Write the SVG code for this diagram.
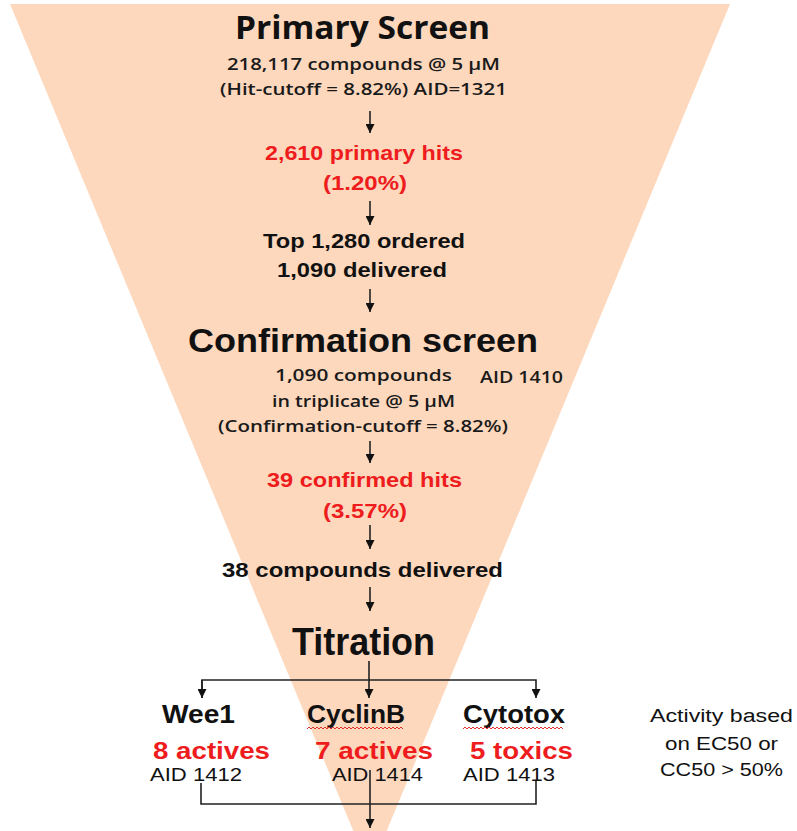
<svg xmlns="http://www.w3.org/2000/svg" width="797" height="831" viewBox="0 0 797 831">
<style>
.h{font-family:"Open Sans","Liberation Sans",sans-serif;font-weight:700;fill:#111;text-anchor:middle}
.s{font-family:"Open Sans","Liberation Sans",sans-serif;font-weight:600;fill:#1a1a1a;text-anchor:middle;font-size:17px}
.b{font-family:"Liberation Sans",Arial,sans-serif;font-weight:700;fill:#111;text-anchor:middle}
.r{font-family:"Liberation Sans",Arial,sans-serif;font-weight:700;fill:#ee1c1c;text-anchor:middle}
.n{font-family:"Liberation Sans",Arial,sans-serif;font-weight:400;fill:#111;text-anchor:middle;font-size:18px}
.c{fill:none;stroke:#222;stroke-width:1.6}
.w{fill:none;stroke:#e03030;stroke-width:1}
</style>
<defs>
<marker id="ah" viewBox="0 0 10 10" refX="10" refY="5" markerWidth="9" markerHeight="9" markerUnits="userSpaceOnUse" orient="auto">
<path d="M0,0 L10,5 L0,10 z" fill="#111"/>
</marker>
</defs>
<rect width="797" height="831" fill="#fff"/>
<polygon id="funnel" points="10,4 730,4 370,871" fill="#fdd8bd"/>

<g id="connectors">
<line class="c" x1="370" y1="111" x2="370" y2="133" marker-end="url(#ah)"/>
<line class="c" x1="370" y1="201" x2="370" y2="225" marker-end="url(#ah)"/>
<line class="c" x1="370" y1="289" x2="370" y2="312" marker-end="url(#ah)"/>
<line class="c" x1="370" y1="441" x2="370" y2="463" marker-end="url(#ah)"/>
<line class="c" x1="370" y1="525" x2="370" y2="549" marker-end="url(#ah)"/>
<line class="c" x1="370" y1="587" x2="370" y2="611" marker-end="url(#ah)"/>
<line class="c" x1="369" y1="661" x2="369" y2="698" marker-end="url(#ah)"/>
<polyline class="c" points="202,698 202,680 536,680 536,698" marker-end="url(#ah)"/>
<line class="c" x1="202" y1="680" x2="202" y2="698" marker-end="url(#ah)"/>
<polyline class="c" points="201,783 201,804 536,804 536,781"/>
<line class="c" x1="370" y1="770" x2="370" y2="828" marker-end="url(#ah)"/>
</g>

<g id="primary-screen">
<text class="h" x="362.5" y="39" font-size="32" textLength="255" lengthAdjust="spacingAndGlyphs">Primary Screen</text>
<text class="s" x="363.5" y="70" textLength="273" lengthAdjust="spacingAndGlyphs">218,117 compounds @ 5 µM</text>
<text class="s" x="363.5" y="95" textLength="287" lengthAdjust="spacingAndGlyphs">(Hit-cutoff = 8.82%) AID=1321</text>
</g>

<g id="primary-hits">
<text class="r" x="364" y="160" font-size="21" textLength="198" lengthAdjust="spacingAndGlyphs">2,610 primary hits</text>
<text class="r" x="365" y="190" font-size="21" textLength="84" lengthAdjust="spacingAndGlyphs">(1.20%)</text>
</g>

<g id="ordered">
<text class="b" x="364" y="248" font-size="21" textLength="202" lengthAdjust="spacingAndGlyphs">Top 1,280 ordered</text>
<text class="b" x="362" y="277" font-size="21" textLength="170" lengthAdjust="spacingAndGlyphs">1,090 delivered</text>
</g>

<g id="confirmation-screen">
<text class="b" x="363" y="352" font-size="33" textLength="350" lengthAdjust="spacingAndGlyphs">Confirmation screen</text>
<text class="s" x="363.5" y="381" textLength="177" lengthAdjust="spacingAndGlyphs">1,090 compounds</text>
<text class="s" x="521.5" y="383" textLength="83" lengthAdjust="spacingAndGlyphs">AID 1410</text>
<text class="s" x="363.5" y="407" textLength="183" lengthAdjust="spacingAndGlyphs">in triplicate @ 5 µM</text>
<text class="s" x="363" y="432" textLength="290" lengthAdjust="spacingAndGlyphs">(Confirmation-cutoff = 8.82%)</text>
</g>

<g id="confirmed-hits">
<text class="r" x="364.5" y="487" font-size="21" textLength="195" lengthAdjust="spacingAndGlyphs">39 confirmed hits</text>
<text class="r" x="365" y="518" font-size="21" textLength="84" lengthAdjust="spacingAndGlyphs">(3.57%)</text>
</g>

<g id="delivered">
<text class="b" x="362.5" y="577" font-size="21" textLength="281" lengthAdjust="spacingAndGlyphs">38 compounds  delivered</text>
</g>

<g id="titration">
<text class="b" x="363.5" y="655" font-size="38" textLength="143" lengthAdjust="spacingAndGlyphs">Titration</text>
</g>

<g id="wee1">
<text class="b" x="198.5" y="723" font-size="25" textLength="73" lengthAdjust="spacingAndGlyphs">Wee1</text>
<text class="r" x="211.5" y="759" font-size="24" textLength="117" lengthAdjust="spacingAndGlyphs">8 actives</text>
<text class="n" x="196" y="781" textLength="92" lengthAdjust="spacingAndGlyphs">AID 1412</text>
</g>

<g id="cyclinb">
<text class="b" x="356" y="723" font-size="25" textLength="98" lengthAdjust="spacingAndGlyphs">CyclinB</text>
<path class="w" d="M307,729 l2,-2 l2,2 l2,-2 l2,2 l2,-2 l2,2 l2,-2 l2,2 l2,-2 l2,2 l2,-2 l2,2 l2,-2 l2,2 l2,-2 l2,2 l2,-2 l2,2 l2,-2 l2,2 l2,-2 l2,2 l2,-2 l2,2 l2,-2 l2,2 l2,-2 l2,2 l2,-2 l2,2 l2,-2 l2,2 l2,-2 l2,2 l2,-2 l2,2 l2,-2 l2,2 l2,-2 l2,2 l2,-2 l2,2 l2,-2 l2,2 l2,-2 l2,2 l2,-2 l2,2"/>
<text class="r" x="374" y="759" font-size="24" textLength="118" lengthAdjust="spacingAndGlyphs">7 actives</text>
<text class="n" x="377.5" y="781" textLength="91" lengthAdjust="spacingAndGlyphs">AID 1414</text>
</g>

<g id="cytotox">
<text class="b" x="514" y="723" font-size="25" textLength="102" lengthAdjust="spacingAndGlyphs">Cytotox</text>
<path class="w" d="M463,729 l2,-2 l2,2 l2,-2 l2,2 l2,-2 l2,2 l2,-2 l2,2 l2,-2 l2,2 l2,-2 l2,2 l2,-2 l2,2 l2,-2 l2,2 l2,-2 l2,2 l2,-2 l2,2 l2,-2 l2,2 l2,-2 l2,2 l2,-2 l2,2 l2,-2 l2,2 l2,-2 l2,2 l2,-2 l2,2 l2,-2 l2,2 l2,-2 l2,2 l2,-2 l2,2 l2,-2 l2,2 l2,-2 l2,2 l2,-2 l2,2 l2,-2 l2,2 l2,-2 l2,2 l2,-2 l2,2"/>
<text class="r" x="521.5" y="759" font-size="24" textLength="103" lengthAdjust="spacingAndGlyphs">5 toxics</text>
<text class="n" x="509" y="781" textLength="92" lengthAdjust="spacingAndGlyphs">AID 1413</text>
</g>

<g id="activity-note">
<text class="n" x="721.5" y="722" font-size="19" textLength="143" lengthAdjust="spacingAndGlyphs">Activity based</text>
<text class="n" x="721.5" y="750" font-size="19" textLength="113" lengthAdjust="spacingAndGlyphs">on EC50 or</text>
<text class="n" x="721.5" y="776" font-size="19" textLength="123" lengthAdjust="spacingAndGlyphs">CC50 &gt; 50%</text>
</g>
</svg>
